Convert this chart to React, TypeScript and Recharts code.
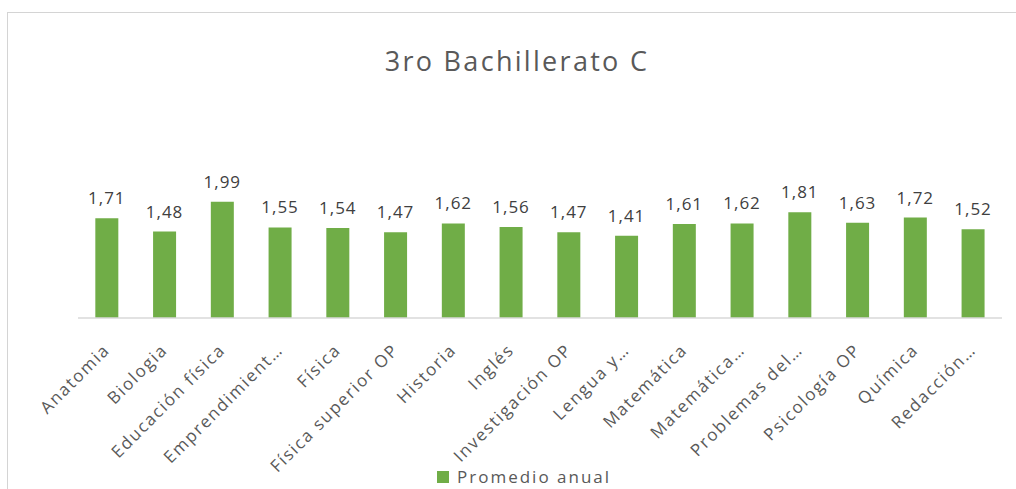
import React from 'react';
import { BarChart, Bar, XAxis, YAxis, LabelList } from 'recharts';

const subjects = [
  'Anatomia',
  'Biologia',
  'Educación física',
  'Emprendimient…',
  'Física',
  'Física superior OP',
  'Historia',
  'Inglés',
  'Investigación OP',
  'Lengua y…',
  'Matemática',
  'Matemática…',
  'Problemas del…',
  'Psicología OP',
  'Química',
  'Redacción…',
];
const promedioAnual = [1.71, 1.48, 1.99, 1.55, 1.54, 1.47, 1.62, 1.56, 1.47, 1.41, 1.61, 1.62, 1.81, 1.63, 1.72, 1.52];

const data = subjects.map((name, i) => ({ name, value: promedioAnual[i] }));

const FONT = '"Open Sans", sans-serif';

const AngledTick = (props: any) => {
  const { x, y, payload } = props;
  return (
    <g transform={`translate(${x + 4},${y + 33})`}>
      <text
        transform="rotate(-45)"
        textAnchor="end"
        fill="#595959"
        fontSize={17}
        fontFamily={FONT}
        letterSpacing={1.7}
      >
        {payload.value}
      </text>
    </g>
  );
};

export default function App() {
  return (
    <div style={{ position: 'absolute', left: 0, top: 0, width: 1016, height: 489, overflow: 'hidden', background: '#fff' }}>
      <div style={{ position: 'absolute', left: 7, top: 12, width: 1030, height: 520, border: '1px solid #D4D4D4' }} />
      <div
        style={{
          position: 'absolute',
          left: 0,
          width: 1034,
          top: 42,
          lineHeight: '37px',
          textAlign: 'center',
          fontFamily: FONT,
          fontSize: 27,
          letterSpacing: 2.3,
          color: '#595959',
        }}
      >
        3ro Bachillerato C
      </div>
      <div style={{ position: 'absolute', left: 0, top: 0 }}>
        <BarChart
          width={1016}
          height={489}
          data={data}
          margin={{ top: 172, right: 14, left: 78, bottom: 0 }}
          barCategoryGap="30%"
        >
          <XAxis
            dataKey="name"
            interval={0}
            height={171}
            tickLine={false}
            tickSize={0}
            tickMargin={0}
            axisLine={{ stroke: '#D9D9D9', strokeWidth: 1.5 }}
            tick={<AngledTick />}
          />
          <YAxis hide domain={[0, 2.5]} />
          <Bar dataKey="value" fill="#70AD47" isAnimationActive={false}>
            <LabelList
              dataKey="value"
              position="top"
              offset={14}
              fill="#404040"
              fontSize={17}
              fontFamily={FONT}
              letterSpacing={1}
              formatter={(v: any) => Number(v).toFixed(2).replace('.', ',')}
            />
          </Bar>
        </BarChart>
      </div>
      <div
        style={{
          position: 'absolute',
          left: 437,
          top: 465,
          display: 'flex',
          alignItems: 'center',
          fontFamily: FONT,
          fontSize: 17,
          letterSpacing: 2,
          lineHeight: '23px',
          color: '#595959',
        }}
      >
        <span style={{ display: 'inline-block', width: 12, height: 12, background: '#70AD47', marginRight: 8 }} />
        Promedio anual
      </div>
    </div>
  );
}
